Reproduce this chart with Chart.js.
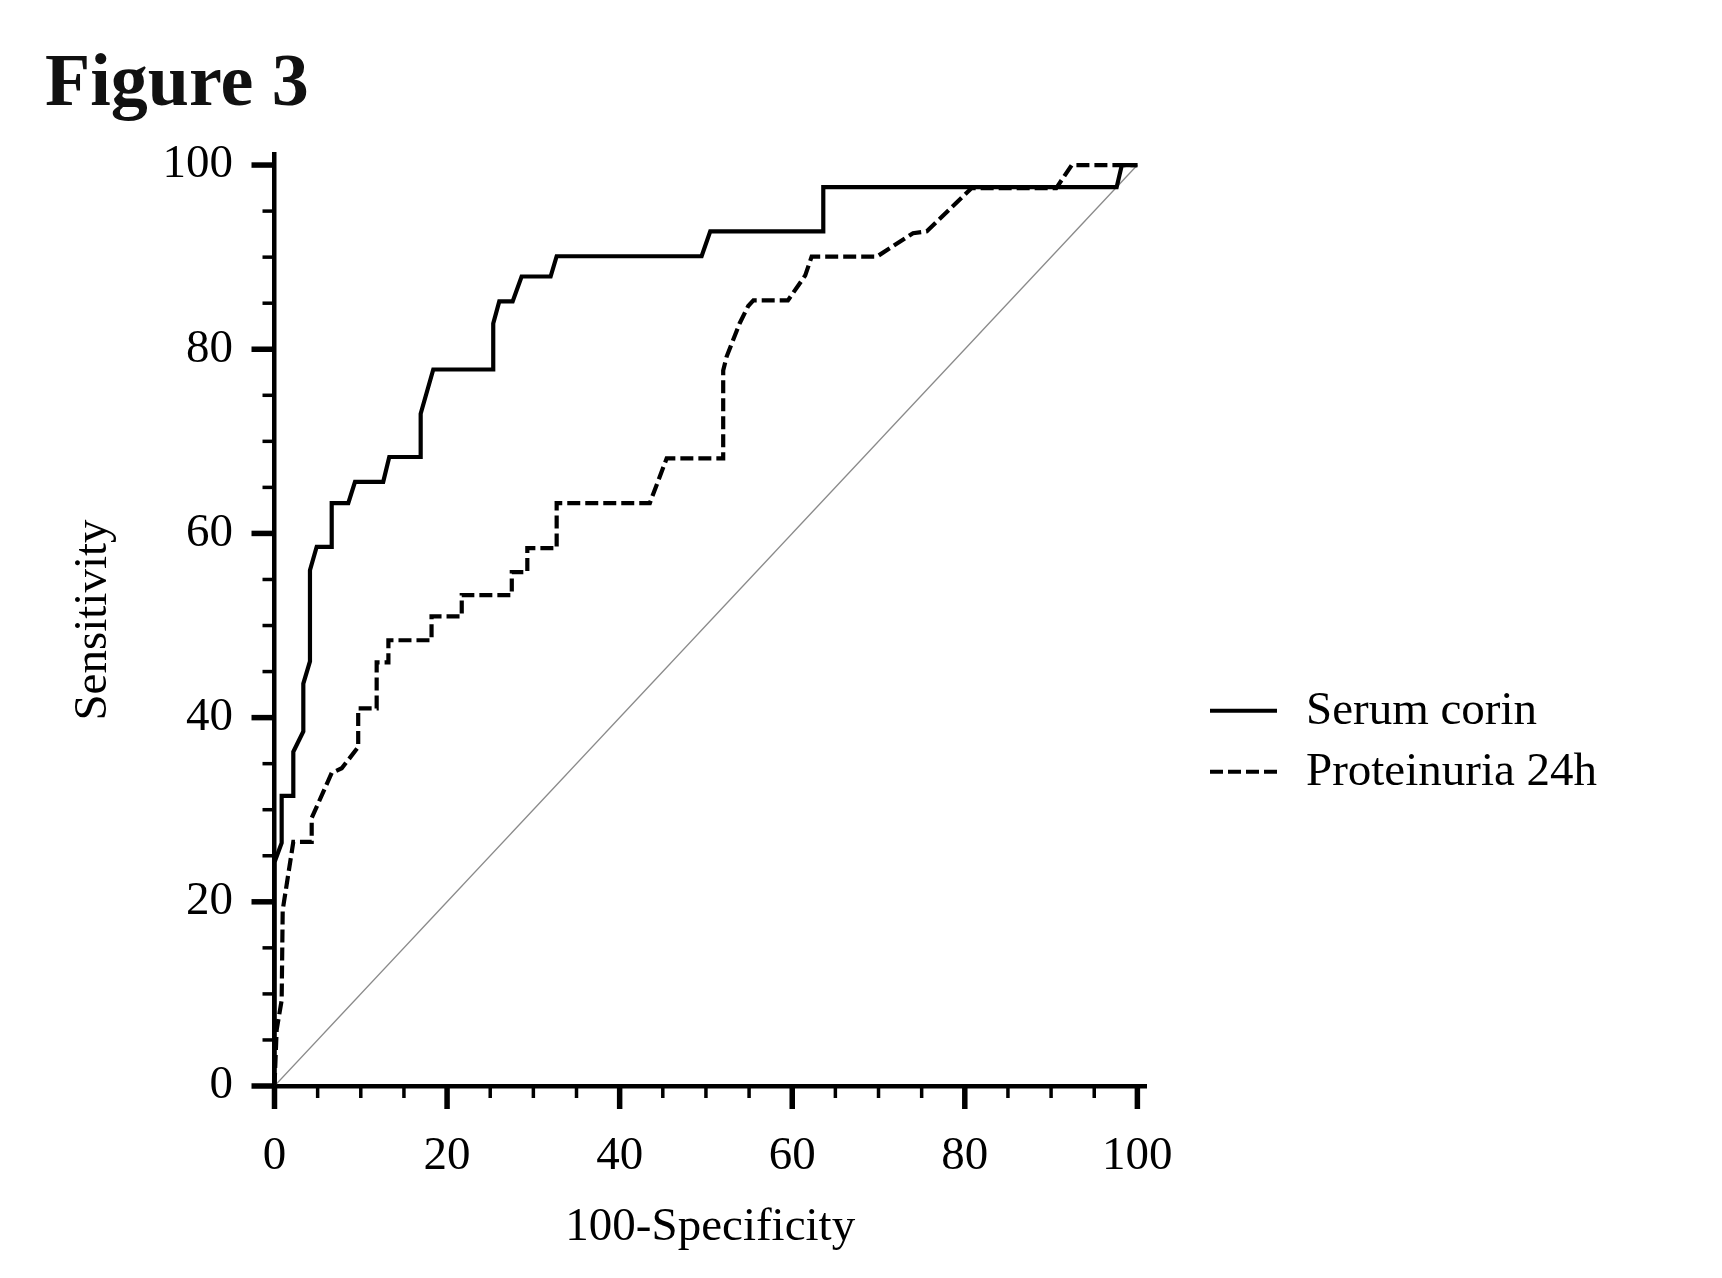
<!DOCTYPE html>
<html>
<head>
<meta charset="utf-8">
<title>Figure 3</title>
<script src="https://cdn.jsdelivr.net/npm/chart.js@4.4.1/dist/chart.umd.min.js"></script>
<style>
  html, body { margin: 0; padding: 0; background: #fff; }
  #wrap { position: relative; width: 1722px; height: 1278px; overflow: hidden; }
  #chart { position: absolute; left: 0; top: 0; }
  .fig-title { position: absolute; left: 45px; top: 43px; font: bold 74px/74px "Liberation Serif", "Times New Roman", serif; color: #111; white-space: nowrap; }
  .legend-text { position: absolute; left: 1306px; font: 47px/47px "Liberation Serif", "Times New Roman", serif; color: #000; white-space: nowrap; }
  #legend-lines { position: absolute; left: 1208px; top: 690px; }
</style>
</head>
<body>
<div id="wrap">
  <canvas id="chart" width="1722" height="1278"></canvas>
  <div class="fig-title">Figure 3</div>
  <svg id="legend-lines" width="80" height="100">
    <line x1="2" y1="20.7" x2="69" y2="20.7" stroke="#000" stroke-width="4"/>
    <line x1="2" y1="81.7" x2="69" y2="81.7" stroke="#000" stroke-width="4" stroke-dasharray="13 5"/>
  </svg>
  <div class="legend-text" style="top:685px">Serum corin</div>
  <div class="legend-text" style="top:746px">Proteinuria 24h</div>
</div>
<script>
// tick labels
const xTickValues = [0, 20, 40, 60, 80, 100];
const yTickValues = [0, 20, 40, 60, 80, 100];

// ROC curve: Serum corin (100-specificity, sensitivity)
const serumX = [0, 0, 0.83, 0.83, 2.18, 2.18, 3.34, 3.34, 4.11, 4.11, 4.89, 6.63, 6.63, 8.55, 9.33, 12.6,
  13.3, 16.94, 16.94, 18.4, 25.35, 25.35, 26.05, 27.6, 28.64, 32.0, 32.7, 49.5, 50.5, 63.6, 63.6, 97.6, 98.2, 100];
const serumY = [0, 24.3, 26.4, 31.5, 31.5, 36.3, 38.5, 43.7, 46.1, 56.0, 58.55, 58.55, 63.3, 63.3, 65.6, 65.6,
  68.3, 68.3, 73.0, 77.8, 77.8, 82.8, 85.2, 85.2, 87.9, 87.9, 90.1, 90.1, 92.8, 92.8, 97.6, 97.6, 100, 100];

// ROC curve: Proteinuria 24h
const protX = [0, 0.25, 0.83, 0.95, 2.18, 4.31, 4.31, 6.63, 7.79, 9.7, 9.7, 11.84, 11.84, 13.2, 13.2, 18.2,
  18.2, 21.7, 21.7, 27.5, 27.5, 29.3, 29.3, 32.7, 32.7, 43.5, 45.45, 52.0, 52.0, 52.4, 53.9, 54.9, 55.5,
  59.5, 61.5, 62.25, 69.8, 74.0, 75.6, 80.8, 90.6, 92.4, 100];
const protY = [0, 6.1, 9.3, 19.1, 26.5, 26.5, 29.1, 34.0, 34.5, 36.8, 41.0, 41.0, 46.0, 46.0, 48.4, 48.4,
  51.0, 51.0, 53.3, 53.3, 55.8, 55.8, 58.4, 58.4, 63.3, 63.3, 68.15, 68.15, 77.7, 79.2, 82.8, 84.7, 85.3,
  85.3, 88.0, 90.05, 90.05, 92.6, 92.8, 97.5, 97.5, 100, 100];

// reference diagonal
const refX = [0, 100];
const refY = [0, 100];

function toPoints(xs, ys) {
    return xs.map((x, i) => ({ x: x, y: ys[i] }));
}

const serif = "'Liberation Serif', 'Times New Roman', serif";

// major/minor tick marks outside the axes
const axisTicks = {
    id: 'axisTicks',
    afterDraw(chart) {
        const ctx = chart.ctx;
        const xs = chart.scales.x;
        const ys = chart.scales.y;
        const left = chart.chartArea.left;
        const bottom = chart.chartArea.bottom;
        ctx.save();
        ctx.strokeStyle = '#000';
        for (let v = 0; v <= 100; v += 5) {
            const major = v % 20 === 0;
            const len = major ? 23 : 12;
            ctx.lineWidth = major ? 5.5 : 3.5;
            const px = xs.getPixelForValue(v);
            ctx.beginPath();
            ctx.moveTo(px, bottom);
            ctx.lineTo(px, bottom + len);
            ctx.stroke();
            const py = ys.getPixelForValue(v);
            ctx.beginPath();
            ctx.moveTo(left, py);
            ctx.lineTo(left - len, py);
            ctx.stroke();
        }
        ctx.restore();
    }
};

new Chart(document.getElementById('chart'), {
    type: 'line',
    data: {
        datasets: [
            {
                label: 'Serum corin',
                data: toPoints(serumX, serumY),
                borderColor: '#000',
                borderWidth: 4.2,
                pointRadius: 0,
                tension: 0
            },
            {
                label: 'Proteinuria 24h',
                data: toPoints(protX, protY),
                borderColor: '#000',
                borderWidth: 4.2,
                borderDash: [13, 5],
                pointRadius: 0,
                tension: 0
            },
            {
                label: 'Reference',
                data: toPoints(refX, refY),
                borderColor: '#8a8a8a',
                borderWidth: 1.3,
                pointRadius: 0,
                tension: 0
            }
        ]
    },
    options: {
        responsive: false,
        animation: false,
        events: [],
        layout: { padding: { left: 40, top: 154, right: 576, bottom: 0 } },
        plugins: {
            legend: { display: false },
            tooltip: { enabled: false }
        },
        scales: {
            x: {
                type: 'linear',
                min: 0,
                max: 101,
                afterBuildTicks: s => { s.ticks = xTickValues.map(v => ({ value: v })); },
                afterFit: s => { s.height = 192; },
                grid: { display: false, drawTicks: false },
                border: { display: true, color: '#000', width: 4.5 },
                ticks: {
                    color: '#000',
                    padding: 42.8,
                    maxRotation: 0,
                    autoSkip: false,
                    font: { family: serif, size: 47 }
                },
                title: {
                    display: true,
                    text: '100-Specificity',
                    color: '#000',
                    font: { family: serif, size: 47 },
                    padding: { top: 0, bottom: 22.5 }
                }
            },
            y: {
                type: 'linear',
                min: 0,
                max: 101.2,
                afterBuildTicks: s => { s.ticks = yTickValues.map(v => ({ value: v })); },
                afterFit: s => { s.width = 234.5; },
                grid: { display: false, drawTicks: false },
                border: { display: true, color: '#000', width: 4.5 },
                ticks: {
                    color: '#000',
                    padding: 41.5,
                    autoSkip: false,
                    font: { family: serif, size: 47 }
                },
                title: {
                    display: true,
                    text: 'Sensitivity',
                    color: '#000',
                    font: { family: serif, size: 47 },
                    padding: { top: 25, bottom: 0 }
                }
            }
        }
    },
    plugins: [axisTicks]
});
</script>
</body>
</html>
